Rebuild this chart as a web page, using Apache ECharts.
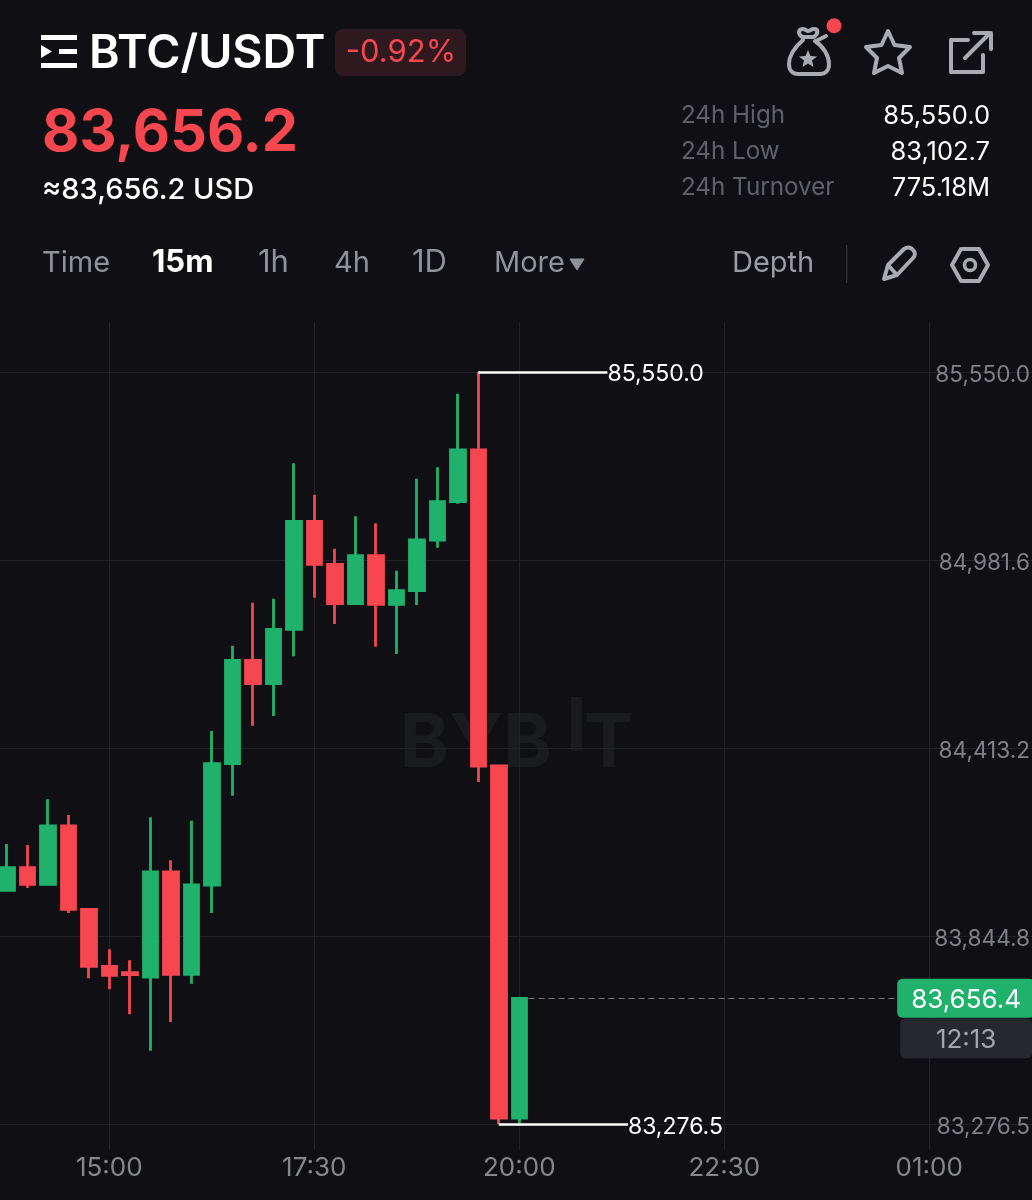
<!DOCTYPE html>
<html>
<head>
<meta charset="utf-8">
<title>BTC/USDT</title>
<script src="https://cdn.jsdelivr.net/npm/echarts@6/dist/echarts.min.js"></script>
<style>
    html, body { margin: 0; padding: 0; background: #101014; }
    #chart { width: 1032px; height: 1200px; }
</style>
</head>
<body>
<div id="chart"></div>
<script>
// 15m candles
const barTimes = ["13:45", "14:00", "14:15", "14:30", "14:45", "15:00", "15:15", "15:30", "15:45", "16:00",
    "16:15", "16:30", "16:45", "17:00", "17:15", "17:30", "17:45", "18:00", "18:15", "18:30",
    "18:45", "19:00", "19:15", "19:30", "19:45", "20:00", "20:15", "20:30", "20:45", "21:00",
    "21:15", "21:30", "21:45", "22:00", "22:15", "22:30", "22:45", "23:00", "23:15", "23:30",
    "23:45", "00:00", "00:15", "00:30", "00:45", "01:00"];
const opens = [83983.0, 84051.3, 84001.1, 84177.4, 83925.5, 83753.2, 83734.0, 83720.8, 84038.3, 83729.0,
    83999.0, 84365.7, 84678.4, 84607.6, 84772.1, 85098.6, 84968.6, 84849.5, 84994.6, 84847.7,
    84888.8, 85042.1, 85157.9, 85314.2, 84358.8, 83294.5];
const closes = [84051.3, 84001.1, 84177.4, 83925.5, 83753.2, 83726.0, 83728.0, 84038.3, 83729.0, 83999.0,
    84365.7, 84678.4, 84607.6, 84772.1, 85098.6, 84968.6, 84849.5, 84994.6, 84847.7, 84888.8,
    85042.1, 85157.9, 85314.2, 84358.8, 83294.5, 83656.4];
const lows = [83983.0, 83989.9, 84001.1, 83914.3, 83716.9, 83683.7, 83608.1, 83498.0, 83584.8, 83700.6,
    83914.3, 84269.0, 84480.6, 84510.0, 84690.5, 84867.6, 84788.1, 84848.0, 84719.5, 84697.4,
    84845.5, 85018.8, 85151.8, 84310.4, 83276.5, 83279.0];
const highs = [84123.0, 84120.0, 84258.1, 84210.6, 83925.5, 83804.6, 83771.3, 84203.7, 84073.7, 84193.4,
    84464.6, 84722.5, 84852.5, 84864.6, 85274.0, 85179.0, 85015.8, 85113.7, 85092.6, 84949.3,
    85227.4, 85261.9, 85484.4, 85550.0, 84358.8, 83656.4];

const priceTicks = [85550.0, 84981.6, 84413.2, 83844.8, 83276.5];
const timeTicks = [5, 15, 25, 35, 45]; // index into barTimes

const highBar = 23, lowBar = 24, lastBar = 25;
const highPrice = 85550.0, lowPrice = 83276.5, lastPrice = 83656.4;

const RED = "#f6464f";
const GREEN = "#20b26c";
const BG = "#101014";
const GRID = "#212226";
const FONT = "Inter, 'Noto Sans', sans-serif";
const ICON = "#a9abb1";

const fmt = (v) => v.toLocaleString("en-US", { minimumFractionDigits: 1, maximumFractionDigits: 1 });

const candles = barTimes.slice(0, opens.length).map((t, i) => [i, opens[i], closes[i], lows[i], highs[i]]);

// icons that the plain graphic shapes can't do
echarts.graphic.registerShape("bagIcon", echarts.graphic.extendPath(
    "M802 37 C797 33 799 29 803 29 C806 29 806 31 808 31 C810 31 811 29 814 29 C818 29 819 33 814 37 Z " +
    "M803 40 C795 47 789 56 789 64 C789 71 793 74 798 74 L820 74 C825 74 829 71 829 64 C829 56 824 47 815 41 " +
    "M816 41 L826 36", {}));
echarts.graphic.registerShape("pencilIcon", echarts.graphic.extendPath(
    "M884 279 L888 265 L904 249 C907 246.500 911 247 913 250 C915.500 252 915.500 256 913 258 L897 275 Z M888 265 L897 275", {}));

function txt(text, x, y, size, color, weight, align) {
    return {
        type: "text", x: x, y: y, silent: true,
        style: {
            text: text, fill: color, fontSize: size, fontWeight: weight || 400,
            fontFamily: FONT, align: align || "left", verticalAlign: "middle",
        },
    };
}
function stroke(color, width) {
    return { fill: "none", stroke: color, lineWidth: width, lineJoin: "round", lineCap: "round" };
}

const headerGraphics = [
    // watermark
    { type: "text", x: 400, y: 745, z: -1, silent: true, style: { text: "BYB", fill: "#1a1b1f", fontSize: 74, fontWeight: 700, fontFamily: FONT, verticalAlign: "middle", letterSpacing: 3 } },
    { type: "text", x: 566, y: 729, z: -1, silent: true, style: { text: "I", fill: "#1a1b1f", fontSize: 74, fontWeight: 700, fontFamily: FONT, verticalAlign: "middle" } },
    { type: "text", x: 584, y: 745, z: -1, silent: true, style: { text: "T", fill: "#1a1b1f", fontSize: 74, fontWeight: 700, fontFamily: FONT, verticalAlign: "middle" } },

    // menu icon
    { type: "rect", shape: { x: 41, y: 35, width: 36, height: 5 }, style: { fill: "#fff" } },
    { type: "rect", shape: { x: 59, y: 49, width: 18, height: 5 }, style: { fill: "#fff" } },
    { type: "rect", shape: { x: 41, y: 63, width: 36, height: 5 }, style: { fill: "#fff" } },
    { type: "polygon", shape: { points: [[41, 45], [52, 51.5], [41, 58]] }, style: { fill: "#fff" } },

    txt("BTC/USDT", 89, 54, 46.5, "#ffffff", 600),
    { type: "rect", shape: { x: 335, y: 29, width: 131, height: 47, r: 8 }, style: { fill: "#2e1a1e" } },
    txt("-0.92%", 401, 53, 31, RED, 400, "center"),
    txt("83,656.2", 42, 134, 57.5, RED, 700),
    txt("≈83,656.2 USD", 42, 190, 29, "#ffffff", 500),

    // top right icons
    { type: "bagIcon", shape: {}, style: stroke(ICON, 4) },
    { type: "polygon", shape: { points: [[808, 50], [810.500, 56], [817, 56.500], [812, 60.500], [813.500, 67], [808, 63.500], [802.500, 67], [804, 60.500], [799, 56.500], [805.500, 56]] }, style: { fill: ICON } },
    { type: "circle", shape: { cx: 834, cy: 25.7, r: 7.5 }, style: { fill: RED } },
    { type: "polygon", shape: { points: [[888, 31], [894.500, 45], [910, 47], [899, 58], [902, 73], [888, 66], [874, 73], [877, 58], [866, 47], [881.500, 45]] }, style: stroke(ICON, 4) },
    { type: "polyline", shape: { points: [[968, 40], [951, 40], [951, 72], [983, 72], [983, 55]] }, style: stroke(ICON, 4) },
    { type: "polyline", shape: { points: [[965, 58], [990, 33]] }, style: stroke(ICON, 4) },
    { type: "polyline", shape: { points: [[974, 33], [991, 33], [991, 49]] }, style: stroke(ICON, 4) },

    // 24h stats
    txt("24h High", 681, 116, 24.2, "#5f6167"),
    txt("24h Low", 681, 152, 24.2, "#5f6167"),
    txt("24h Turnover", 681, 188, 24.2, "#5f6167"),
    txt("85,550.0", 990, 116, 25.5, "#ffffff", 400, "right"),
    txt("83,102.7", 990, 152, 25.5, "#ffffff", 400, "right"),
    txt("775.18M", 990, 188, 25.5, "#ffffff", 400, "right"),

    // interval tabs
    txt("Time", 42, 263, 29, "#8f9298"),
    txt("15m", 152, 263, 31, "#ffffff", 700),
    txt("1h", 258, 263, 31, "#8f9298"),
    txt("4h", 334, 263, 29, "#8f9298"),
    txt("1D", 412, 263, 31, "#8f9298"),
    txt("More", 494, 263, 29, "#8f9298"),
    { type: "polygon", shape: { points: [[570, 259], [584, 259], [577, 270]] }, style: { fill: "#8f9298", stroke: "#8f9298", lineWidth: 1, lineJoin: "round" } },
    txt("Depth", 732, 263, 29, "#9a9ca2"),
    { type: "rect", shape: { x: 846, y: 245, width: 1.5, height: 38 }, style: { fill: "#2e2f33" } },
    { type: "pencilIcon", shape: {}, style: stroke(ICON, 4) },
    { type: "polygon", shape: { points: [[961, 249], [979, 249], [988, 265], [979, 281], [961, 281], [952, 265]] }, style: stroke(ICON, 4) },
    { type: "circle", shape: { cx: 970, cy: 265, r: 5.5 }, style: stroke(ICON, 3.5) },
];

const option = {
    backgroundColor: BG,
    animation: false,
    textStyle: { fontFamily: FONT },
    graphic: { elements: headerGraphics },
    grid: { left: 0, right: 0, top: 322, bottom: 50, containLabel: false, outerBoundsMode: "none" },
    xAxis: {
        type: "value",
        min: -0.33,
        max: 50.012,
        axisLine: { show: false },
        axisTick: { show: false, customValues: timeTicks },
        splitLine: { show: true, lineStyle: { color: GRID, width: 1 } },
        axisLabel: {
            customValues: timeTicks,
            hideOverlap: false,
            color: "#85878b",
            fontSize: 26,
            margin: 5,
            fontFamily: FONT,
            formatter: (v) => barTimes[v],
        },
    },
    yAxis: {
        type: "value",
        position: "right",
        scale: true,
        min: 83197.8,
        max: 85701.2,
        axisLine: { show: false },
        axisTick: { show: false, customValues: priceTicks },
        splitLine: { show: true, lineStyle: { color: GRID, width: 1 } },
        axisLabel: {
            inside: true,
            customValues: priceTicks,
            hideOverlap: false,
            color: "#808186",
            fontSize: 22.6,
            margin: 2,
            // sits a little under its grid line
            verticalAlign: "top",
            lineHeight: 6,
            fontFamily: FONT,
            formatter: (v) => fmt(v),
        },
    },
    series: [
        {
            type: "candlestick",
            data: candles,
            barWidth: 15,
            itemStyle: {
                color: GREEN,
                color0: RED,
                borderColor: GREEN,
                borderColor0: RED,
                borderWidth: 2.8,
            },
            markLine: {
                silent: true,
                animation: false,
                symbol: ["none", "none"],
                data: [
                    [
                        { coord: [highBar, highPrice], lineStyle: { color: "#ffffff", width: 2.5, type: "solid" },
                          label: { show: true, position: "end", distance: 0, color: "#ffffff", fontSize: 23, verticalAlign: "top", lineHeight: 4, fontFamily: FONT, formatter: fmt(highPrice) } },
                        { coord: [highBar + 6.3, highPrice] },
                    ],
                    [
                        { coord: [lowBar, lowPrice], lineStyle: { color: "#ffffff", width: 2.5, type: "solid" },
                          label: { show: true, position: "end", distance: 0, color: "#ffffff", fontSize: 23, verticalAlign: "top", lineHeight: 6, fontFamily: FONT, formatter: fmt(lowPrice) } },
                        { coord: [lowBar + 6.3, lowPrice] },
                    ],
                    [
                        { coord: [lastBar + 0.45, lastPrice], lineStyle: { color: "#77787c", width: 1, type: [6, 4] }, label: { show: false } },
                        { coord: [43.46, lastPrice] },
                    ],
                ],
            },
            markPoint: {
                silent: true,
                animation: false,
                data: [
                    {
                        coord: [46.8, lastPrice],
                        symbol: "path://M6 0H126Q132 0 132 6V34Q132 40 126 40H6Q0 40 0 34V6Q0 0 6 0Z",
                        symbolSize: [132, 40], symbolOffset: [0, 40],
                        itemStyle: { color: "#26282d" },
                        label: { show: true, position: "inside", offset: [0, 2], color: "#a4a6aa", fontSize: 26, fontFamily: FONT, formatter: "12:13" },
                    },
                    {
                        coord: [46.8, lastPrice],
                        symbol: "path://M6 0H132Q138 0 138 6V33Q138 39 132 39H6Q0 39 0 33V6Q0 0 6 0Z",
                        symbolSize: [138, 39],
                        itemStyle: { color: GREEN },
                        label: { show: true, position: "inside", offset: [0, 2], color: "#ffffff", fontSize: 26, fontFamily: FONT, formatter: fmt(lastPrice) },
                    },
                ],
            },
        },
    ],
};

const myChart = echarts.init(document.getElementById("chart"), null, { renderer: "canvas" });
myChart.setOption(option);
</script>
</body>
</html>
